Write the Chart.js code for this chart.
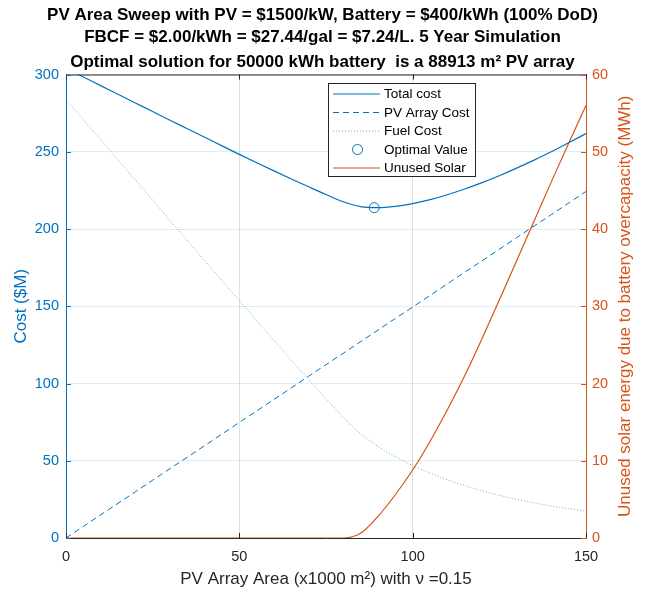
<!DOCTYPE html>
<html><head><meta charset="utf-8">
<script src="https://cdn.jsdelivr.net/npm/chart.js@4.4.1/dist/chart.umd.min.js"></script>
<style>html,body{margin:0;padding:0;background:#fff;}#wrap{width:645px;height:592px;position:relative;}</style>
</head><body><div id="wrap"><canvas id="c" width="645" height="592"></canvas></div>
<script>
// ---- data ----
const areaK = [0,5,10,15,20,25,30,35,40,45,50,55,60,65,70,75,80,85,90,95,100,105,110,115,120,125,130,135,140,145,150];
const totalCost = [304,298.4,292.8,287.2,281.6,276,270.4,264.9,259.4,253.8,248.3,242.9,237.6,232.4,227.3,222.3,217.6,214.5,213.85,214.7,216.4,219,222.2,225.9,230,234.5,239.4,244.6,250,255.8,261.8];
const pvCost = [0,7.5,15.0,22.4,29.9,37.4,44.9,52.3,59.8,67.3,74.8,82.2,89.7,97.2,104.7,112.2,119.6,127.1,134.6,142.1,149.5,157.0,164.5,172.0,179.4,186.9,194.4,201.9,209.3,216.8,224.3];
const fuelCost = [284,270.9,257.8,244.8,231.7,218.6,205.5,192.6,179.6,166.5,153.5,140.7,127.9,115.2,102.6,90.1,78,67.5,59.3,52.6,46.9,42,37.7,33.9,30.6,27.6,25,22.7,20.7,19,17.5];
const unusedSolar = [0,0,0,0,0,0,0,0,0,0,0,0,0,0,0,0,0,0.6,2.8,5.6,8.8,12.5,16.6,21.0,25.8,30.8,35.9,41.0,46.1,51.1,56];
const optimalArea = [88.913];
const optimalCost = [213.8];
const xTicks = [0,50,100,150];
const yTicks = [0,50,100,150,200,250,300];
const y2Ticks = [0,10,20,30,40,50,60];
const seriesLabels = ['Total cost','PV Array Cost','Fuel Cost','Optimal Value','Unused Solar'];
const titleLines = ['PV Area Sweep with PV = $1500/kW, Battery = $400/kWh (100% DoD)','FBCF = $2.00/kWh = $27.44/gal = $7.24/L. 5 Year Simulation'];
const subtitleText = 'Optimal solution for 50000 kWh battery  is a 88913 m\u00B2 PV array';
const xTitle = 'PV Array Area (x1000 m\u00B2) with \u03BD =0.15';
const yTitle = 'Cost ($M)';
const y2Title = 'Unused solar energy due to battery overcapacity (MWh)';

const BLUE = '#0072BD', ORANGE = '#D95319', DARK = '#262626';
const FONT = '"Liberation Sans", Arial, Helvetica, sans-serif';
Chart.defaults.font.family = FONT;

const pts = (xs, ys) => xs.map((x, i) => ({x, y: ys[i]}));

const decor = {
  id: 'decor',
  afterDatasetsDraw(chart) {
    const {ctx, chartArea: a, scales} = chart;
    ctx.save();
    ctx.lineWidth = 1;
    ctx.strokeStyle = DARK;
    ctx.beginPath(); ctx.moveTo(a.left, a.top + 0.5); ctx.lineTo(a.right, a.top + 0.5); ctx.stroke();
    const TL = 5;
    xTicks.forEach(v => {
      const px = Math.round(scales.x.getPixelForValue(v)) + 0.5;
      ctx.beginPath(); ctx.moveTo(px, a.bottom); ctx.lineTo(px, a.bottom - TL); ctx.stroke();
      ctx.beginPath(); ctx.moveTo(px, a.top); ctx.lineTo(px, a.top + TL); ctx.stroke();
    });
    ctx.strokeStyle = BLUE;
    yTicks.forEach(v => {
      const py = Math.round(scales.y.getPixelForValue(v)) + 0.5;
      ctx.beginPath(); ctx.moveTo(a.left, py); ctx.lineTo(a.left + TL, py); ctx.stroke();
    });
    ctx.strokeStyle = ORANGE;
    y2Ticks.forEach(v => {
      const py = Math.round(scales.y2.getPixelForValue(v)) + 0.5;
      ctx.beginPath(); ctx.moveTo(a.right, py); ctx.lineTo(a.right - TL, py); ctx.stroke();
    });
    ctx.restore();
  },
  afterDraw(chart) {
    const {ctx, chartArea: a} = chart;
    ctx.save();
    ctx.translate(625, (a.top + a.bottom) / 2);
    ctx.rotate(-Math.PI / 2);
    ctx.font = '17px ' + FONT;
    ctx.fillStyle = ORANGE;
    ctx.textAlign = 'center';
    ctx.textBaseline = 'middle';
    ctx.fillText(y2Title, 0, 0);
    ctx.restore();

    const bx = 328.5, by = 83.5, bw = 147, bh = 93;
    ctx.save();
    ctx.fillStyle = '#fff';
    ctx.fillRect(bx, by, bw, bh);
    ctx.strokeStyle = DARK; ctx.lineWidth = 1;
    ctx.strokeRect(bx, by, bw, bh);
    ctx.font = '13.5px ' + FONT;
    ctx.textBaseline = 'middle';
    ctx.textAlign = 'left';
    chart.data.datasets.forEach((ds, i) => {
      const y = 94 + i * 18.5;
      ctx.strokeStyle = ds.borderColor;
      ctx.lineWidth = ds.borderWidth || 1;
      if (ds.showLine === false) {
        ctx.beginPath(); ctx.arc(357.5, y, ds.pointRadius, 0, Math.PI * 2); ctx.stroke();
      } else {
        ctx.setLineDash(ds.borderDash || []);
        ctx.beginPath(); ctx.moveTo(333, y); ctx.lineTo(380, y); ctx.stroke();
        ctx.setLineDash([]);
      }
      ctx.fillStyle = '#000';
      ctx.fillText(ds.label, 384, y + 0.5);
    });
    ctx.restore();
  }
};

new Chart(document.getElementById('c'), {
  type: 'line',
  data: {
    datasets: [
      {label: seriesLabels[0], data: pts(areaK, totalCost), yAxisID: 'y', borderColor: BLUE, borderWidth: 1.2, pointRadius: 0, cubicInterpolationMode: 'monotone', fill: false},
      {label: seriesLabels[1], data: pts(areaK, pvCost), yAxisID: 'y', borderColor: BLUE, borderWidth: 1, borderDash: [6, 4], pointRadius: 0, fill: false},
      {label: seriesLabels[2], data: pts(areaK, fuelCost), yAxisID: 'y', borderColor: 'rgba(0,114,189,0.6)', borderWidth: 1, borderDash: [1, 2], pointRadius: 0, cubicInterpolationMode: 'monotone', fill: false},
      {label: seriesLabels[3], data: pts(optimalArea, optimalCost), yAxisID: 'y', showLine: false, borderColor: BLUE, backgroundColor: 'rgba(0,0,0,0)', borderWidth: 1, pointRadius: 5, pointStyle: 'circle'},
      {label: seriesLabels[4], data: pts(areaK, unusedSolar), yAxisID: 'y2', borderColor: ORANGE, borderWidth: 1.2, pointRadius: 0, cubicInterpolationMode: 'monotone', fill: false}
    ]
  },
  options: {
    responsive: false,
    animation: false,
    devicePixelRatio: 1,
    layout: {padding: 0},
    plugins: {
      legend: {display: false},
      tooltip: {enabled: false},
      title: {display: true, text: titleLines, color: '#000', font: {size: 17, weight: 'bold', lineHeight: 1.25}, padding: {top: 5, bottom: 0}},
      subtitle: {display: true, text: subtitleText, color: '#000', font: {size: 17, weight: 'bold', lineHeight: 1.2}, padding: {top: 5, bottom: 1.6}}
    },
    scales: {
      x: {
        type: 'linear', min: 0, max: 150,
        ticks: {stepSize: 50, color: DARK, font: {size: 14.5}, padding: 10, maxRotation: 0},
        grid: {color: '#dedede', drawTicks: false},
        border: {color: DARK, width: 1},
        title: {display: true, text: xTitle, color: DARK, font: {size: 17}, padding: {top: 0, bottom: 2}},
        afterFit: s => { s.height = 54; }
      },
      y: {
        type: 'linear', position: 'left', min: 0, max: 300,
        ticks: {stepSize: 50, color: BLUE, font: {size: 14.5}, padding: 7},
        grid: {color: 'rgba(0,114,189,0.13)', drawTicks: false},
        border: {color: BLUE, width: 1},
        title: {display: true, text: yTitle, color: BLUE, font: {size: 17}, padding: {top: 11, bottom: 0}},
        afterFit: s => { s.width = 66; }
      },
      y2: {
        type: 'linear', position: 'right', min: 0, max: 60,
        ticks: {stepSize: 10, color: ORANGE, font: {size: 14.5}, padding: 6},
        grid: {drawOnChartArea: false, drawTicks: false},
        border: {color: ORANGE, width: 1},
        afterFit: s => { s.width = 59; }
      }
    }
  },
  plugins: [decor]
});
</script></body></html>
